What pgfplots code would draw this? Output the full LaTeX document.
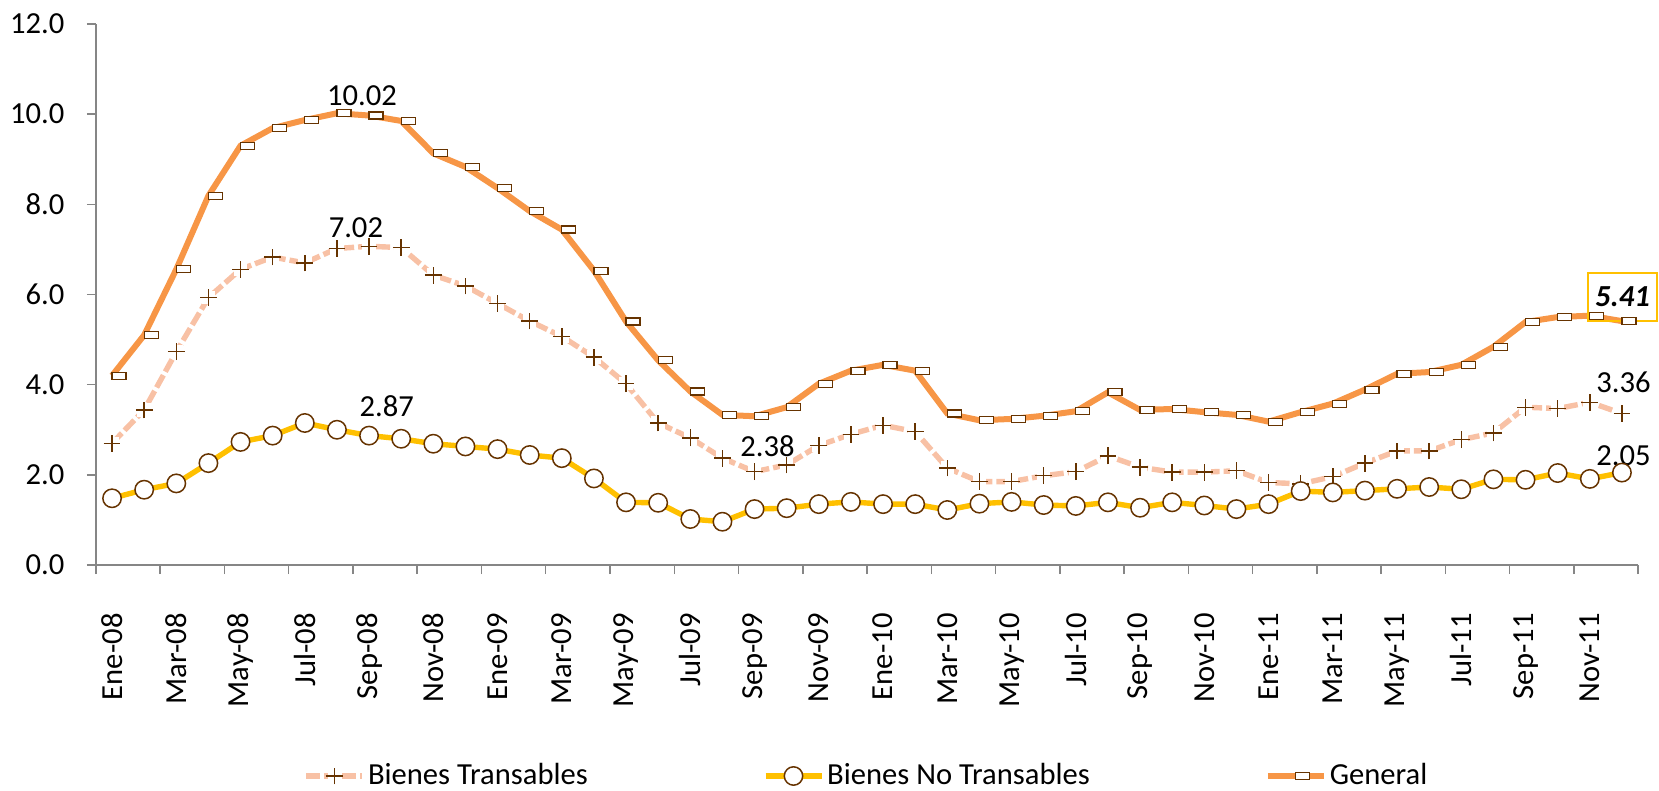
\documentclass[border=0pt]{standalone}
\usepackage{fontspec}
\setmainfont{Carlito}
\usepackage{pgfplots}
\pgfplotsset{compat=1.18}
\usepackage{pgfplotstable}

\definecolor{genOrange}{RGB}{247,150,70}
\definecolor{peach}{RGB}{248,193,165}
\definecolor{goldc}{RGB}{255,192,0}
\definecolor{brownmk}{RGB}{102,51,0}
\definecolor{axgray}{RGB}{134,134,134}

\pgfdeclareplotmark{pluswhite}{%
  \begin{pgfscope}
  \pgfsetfillcolor{white}
  \pgfpathrectangle{\pgfqpoint{-0.8\pgfplotmarksize}{-0.8\pgfplotmarksize}}{\pgfqpoint{1.6\pgfplotmarksize}{1.6\pgfplotmarksize}}
  \pgfusepathqfill
  \end{pgfscope}
  \pgfpathmoveto{\pgfqpoint{-\pgfplotmarksize}{0pt}}
  \pgfpathlineto{\pgfqpoint{\pgfplotmarksize}{0pt}}
  \pgfpathmoveto{\pgfqpoint{0pt}{-\pgfplotmarksize}}
  \pgfpathlineto{\pgfqpoint{0pt}{\pgfplotmarksize}}
  \pgfusepathqstroke
}

\pgfplotstableread{
x gen tra notra
0 4.20 2.70 1.48
1 5.10 3.44 1.67
2 6.56 4.73 1.81
3 8.19 5.93 2.26
4 9.30 6.56 2.73
5 9.69 6.83 2.87
6 9.87 6.70 3.15
7 10.02 7.02 3.00
8 9.97 7.07 2.87
9 9.85 7.04 2.80
10 9.13 6.43 2.69
11 8.83 6.19 2.63
12 8.36 5.80 2.57
13 7.85 5.41 2.44
14 7.44 5.07 2.37
15 6.53 4.61 1.92
16 5.40 4.02 1.39
17 4.54 3.15 1.38
18 3.85 2.82 1.02
19 3.33 2.37 0.96
20 3.30 2.07 1.24
21 3.50 2.22 1.26
22 4.02 2.65 1.35
23 4.31 2.90 1.40
24 4.44 3.10 1.35
25 4.31 2.96 1.35
26 3.36 2.15 1.22
27 3.21 1.85 1.36
28 3.24 1.85 1.40
29 3.31 1.98 1.33
30 3.41 2.07 1.31
31 3.83 2.42 1.39
32 3.44 2.17 1.27
33 3.46 2.06 1.39
34 3.39 2.06 1.32
35 3.33 2.09 1.24
36 3.18 1.83 1.35
37 3.39 1.80 1.64
38 3.58 1.96 1.61
39 3.89 2.26 1.65
40 4.24 2.53 1.69
41 4.28 2.53 1.73
42 4.44 2.78 1.68
43 4.84 2.93 1.90
44 5.39 3.50 1.89
45 5.50 3.47 2.04
46 5.53 3.61 1.91
47 5.41 3.36 2.05
}\datatable

\begin{document}
\fontsize{15.3bp}{18bp}\selectfont
\begin{tikzpicture}
\useasboundingbox (-48bp,-113bp) rectangle (781.5bp,282.5bp);
\begin{axis}[
  at={(0,0)}, anchor=south west,
  scale only axis, width=771bp, height=270.5bp,
  xmin=-0.5, xmax=47.5, ymin=0, ymax=12,
  clip=false,
  axis x line*=bottom, axis y line*=left,
  axis line style={axgray, line width=0.75bp},
  tick align=outside,
  major tick length=4.5bp,
  tick style={axgray, line width=0.75bp},
  xtick={-0.5,1.5,...,47.5},
  xticklabels={},
  extra x ticks={0,2,...,46},
  extra x tick labels={Ene-08,Mar-08,May-08,Jul-08,Sep-08,Nov-08,Ene-09,Mar-09,May-09,Jul-09,Sep-09,Nov-09,Ene-10,Mar-10,May-10,Jul-10,Sep-10,Nov-10,Ene-11,Mar-11,May-11,Jul-11,Sep-11,Nov-11},
  extra x tick style={major tick length=0pt, grid=none},
  xticklabel style={rotate=90, anchor=east, inner xsep=13.5bp},
  xticklabel shift=10.5bp,
  ytick={0,2,...,12},
  yticklabel shift=6bp,
  yticklabel style={/pgf/number format/.cd, fixed, fixed zerofill, precision=1, assume math mode=true},
  legend columns=3,
  legend style={at={(0.5,-0.39)}, anchor=center, draw=none, fill=none,
    nodes={inner xsep=1.5bp},
    /tikz/every even column/.append style={column sep=86bp}},
  legend image code/.code={\draw[mark repeat=2,mark phase=2,#1] plot coordinates {(0bp,0bp) (14bp,0bp) (28bp,0bp)};},
]
\addplot[peach, line width=2.7bp, dash pattern=on 7bp off 2bp,
  mark=pluswhite, mark size=4.2bp, mark options={solid, draw=brownmk, line width=0.7bp}]
  table[x=x, y=tra] {\datatable};
\addlegendentry{Bienes Transables}
\addplot[goldc, line width=2.7bp,
  mark=*, mark size=4.6bp, mark options={fill=white, draw=brownmk, line width=0.75bp}]
  table[x=x, y=notra] {\datatable};
\addlegendentry{Bienes No Transables}
\addplot[genOrange, line width=3bp,
  mark=square*, mark size=1.75bp, mark options={xshift=3.5bp, xscale=2, fill=white, draw=brownmk, line width=0.6bp}]
  table[x=x, y=gen] {\datatable};
\addlegendentry{General}

\node at (axis cs:7.78,10.42) {10.02};
\node at (axis cs:7.59,7.48) {7.02};
\node at (axis cs:8.55,3.52) {2.87};
\node at (axis cs:20.4,2.64) {2.38};
\node at (axis cs:47.05,4.06) {3.36};
\node at (axis cs:47.05,2.42) {2.05};
\node[draw=goldc, line width=1bp, minimum width=34.5bp, minimum height=24bp, inner sep=0pt, font=\bfseries\itshape] at (axis cs:47.02,5.95) {5.41};
\end{axis}
\end{tikzpicture}
\end{document}
